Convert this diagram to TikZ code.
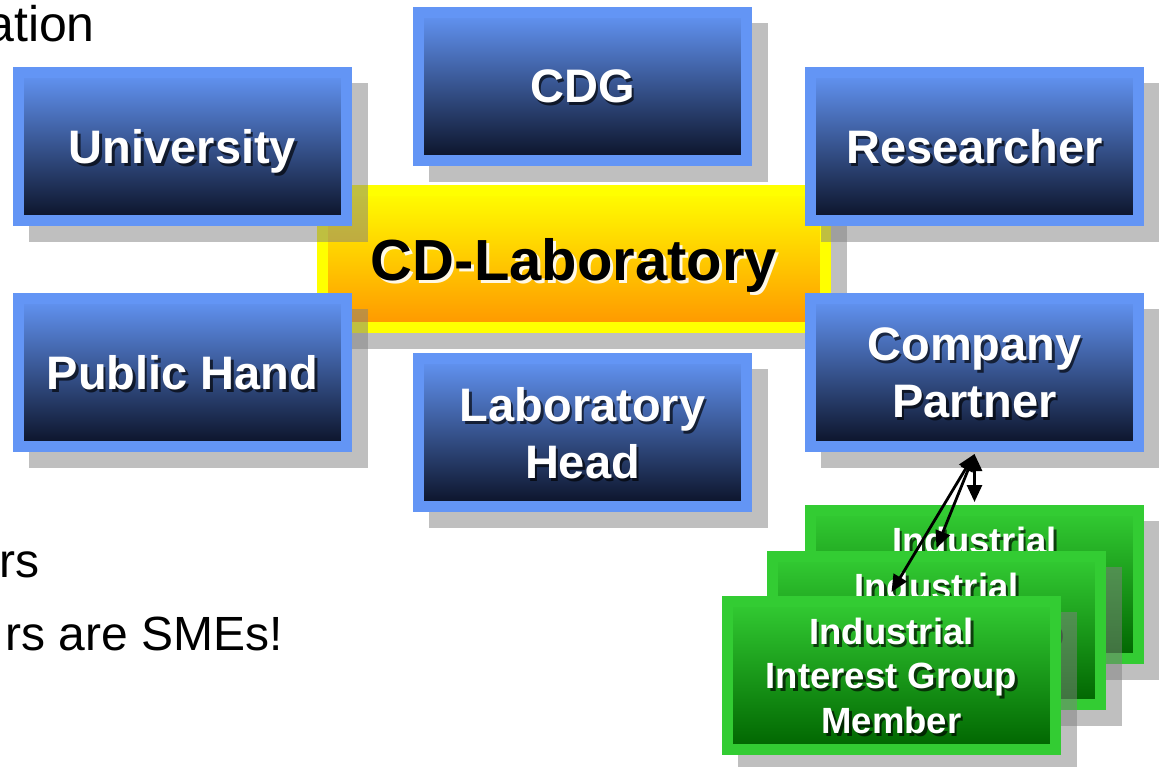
\documentclass[tikz,border=0pt]{standalone}
\usepackage{fontspec}
\setmainfont{Liberation Sans}
\usetikzlibrary{arrows.meta}

% palette
\definecolor{bluerim}{RGB}{99,149,245}
\definecolor{bluemid}{RGB}{62,98,185}
\definecolor{bluedark}{RGB}{10,17,38}
\definecolor{yellowrim}{RGB}{255,255,0}
\definecolor{orangemid}{RGB}{255,204,0}
\definecolor{orangebot}{RGB}{255,150,0}
\definecolor{greenrim}{RGB}{51,204,51}
\definecolor{greenmid}{RGB}{30,160,30}
\definecolor{greendark}{RGB}{0,100,0}
\definecolor{shadowgray}{RGB}{128,128,128}

\tikzset{
  panel/.style={rectangle, inner sep=0pt, line width=11bp,
    minimum width=328bp, minimum height=148bp},
  bluepanel/.style={panel, draw=bluerim, top color=bluerim,
    middle color=bluemid, bottom color=bluedark},
  greenpanel/.style={panel, draw=greenrim, top color=greenrim,
    middle color=greenmid, bottom color=greendark},
  centrepanel/.style={rectangle, inner sep=0pt, line width=11bp,
    minimum width=503bp, minimum height=137bp, draw=yellowrim,
    top color=yellowrim, middle color=orangemid, bottom color=orangebot},
  dropshade/.style={fill=shadowgray, fill opacity=0.5},
  bluetext/.style={text=white, inner sep=0pt, align=center, text depth=0pt,
    font=\bfseries\fontsize{47bp}{57bp}\selectfont},
  greentext/.style={text=white, inner sep=0pt, align=center, text depth=0pt,
    font=\bfseries\fontsize{36.5bp}{44.5bp}\selectfont},
  centretext/.style={text=black, inner sep=0pt, align=center, text depth=0pt,
    font=\bfseries\fontsize{58bp}{70bp}\selectfont},
  textshade/.style={text=black, text opacity=0.65},
  glowshade/.style={text=white, text opacity=0.9},
  bodytext/.style={text=black, inner sep=0pt, anchor=base east,
    font=\fontsize{48bp}{58bp}\selectfont},
  link/.style={line width=2.8bp, black,
    {Triangle[length=17bp,width=15bp]}-{Triangle[length=17bp,width=15bp]}},
}

% #1 name, #2/#3 top-left outer corner, #4 panel style, #5 text style, #6 label
\newcommand\panelbox[6]{%
  \fill[dropshade] (#2+16,#3+16) rectangle (#2+355,#3+175);
  \node[#4] (#1) at (#2+169.5,#3+79.5) {};
  \node[#5, textshade] (#1-sh) at ([xshift=2.5bp,yshift=-3bp]#1.center) {#6};
  \node[#5] (#1-tx) at (#1.center) {#6};
}

\begin{document}
\begin{tikzpicture}[x=1bp,y=-1bp]
  \useasboundingbox (0,0) rectangle (1159,767);

  % central laboratory panel
  \fill[dropshade] (333,201) rectangle (847,349);
  \node[centrepanel] (lab) at (574,259) {};
  \node[centretext, glowshade] (lab-sh) at ([xshift=3bp,yshift=-3bp]lab.center) {CD-Laboratory};
  \node[centretext] (lab-tx) at (lab.center) {CD-Laboratory};

  % surrounding partners
  \panelbox{uni}{13}{67}{bluepanel}{bluetext}{University}
  \panelbox{cdg}{413}{7}{bluepanel}{bluetext}{CDG}
  \panelbox{res}{805}{67}{bluepanel}{bluetext}{Researcher}
  \panelbox{pub}{13}{293}{bluepanel}{bluetext}{Public Hand}
  \panelbox{head}{413}{353}{bluepanel}{bluetext}{Laboratory\\Head}
  \panelbox{cp}{805}{293}{bluepanel}{bluetext}{Company\\Partner}

  % stacked interest group members
  \panelbox{igc}{805}{505}{greenpanel}{greentext}{Industrial\\Interest Group\\Member}
  \panelbox{igb}{767}{551}{greenpanel}{greentext}{Industrial\\Interest Group\\Member}
  \panelbox{iga}{722}{596}{greenpanel}{greentext}{Industrial\\Interest Group\\Member}

  % links between company partner and members
  \draw[link] ([yshift=-2bp]cp.south) -- ([yshift=3bp]igc.north);
  \draw[link] ([yshift=-2bp]cp.south) -- ([yshift=3bp]igb.north);
  \draw[link] ([yshift=-2bp]cp.south) -- ([yshift=4bp]iga.north);

  % running text at the left margin
  \node[bodytext, font=\fontsize{50bp}{60bp}\selectfont] (t1) at (95,42) {ation};
  \node[bodytext] (t2) at (40,577) {rs};
  \node[bodytext] (t3) at (283,650) {rs are SMEs!};
\end{tikzpicture}
\end{document}
